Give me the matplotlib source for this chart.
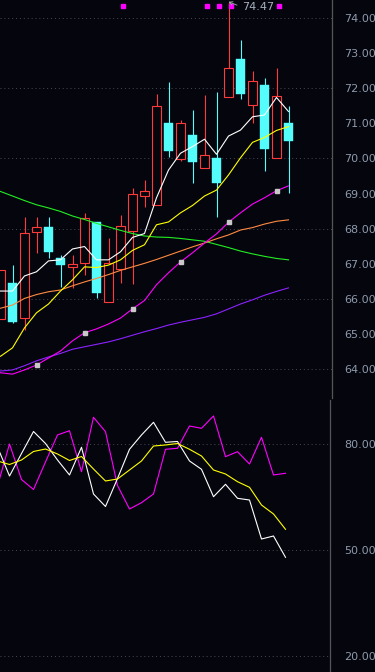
import matplotlib
matplotlib.use('Agg')
import matplotlib.pyplot as plt
from matplotlib.patches import Rectangle
import numpy as np

# daily candles, oldest first
opens = [65.42, 66.45, 65.45, 67.90, 68.04, 67.16, 66.92, 67.01, 68.18, 65.90, 66.84, 67.92, 68.94,
         68.66, 71.02, 69.98, 70.67, 69.72, 70.02, 71.76, 72.84, 71.52, 72.10, 70.02, 71.01]
closes = [66.82, 65.35, 67.88, 68.04, 67.32, 66.95, 66.99, 68.30, 66.17, 67.01, 68.07, 68.98, 69.08,
          71.50, 70.22, 71.01, 69.91, 70.10, 69.31, 72.57, 71.85, 72.21, 70.26, 71.78, 70.51]
highs = [66.82, 66.97, 68.34, 68.34, 68.34, 67.25, 67.25, 68.44, 68.18, 67.74, 68.39, 69.17, 69.39,
         71.84, 72.18, 71.10, 71.39, 71.81, 71.90, 74.47, 73.38, 72.50, 72.30, 72.58, 71.50]
lows = [65.42, 65.32, 65.11, 67.30, 67.16, 66.33, 66.30, 66.68, 66.03, 65.90, 66.44, 66.42, 68.63,
        68.66, 70.04, 69.94, 69.31, 69.72, 68.34, 71.76, 71.71, 71.02, 69.63, 70.02, 69.03]

# moving averages as shown on the chart
ma5 = [66.22, 66.22, 66.65, 66.77, 67.08, 67.11, 67.42, 67.49, 67.11, 67.11, 67.34, 67.75, 67.86,
       68.88, 69.67, 70.15, 70.34, 70.55, 70.12, 70.64, 70.81, 71.19, 71.24, 71.74, 71.34]
ma10 = [64.36, 64.60, 65.17, 65.60, 65.85, 66.22, 66.54, 66.91, 66.89, 66.96, 67.11, 67.38, 67.54,
        68.11, 68.19, 68.45, 68.66, 68.93, 69.10, 69.53, 70.02, 70.46, 70.60, 70.80, 70.91]
ma20 = [63.89, 63.85, 63.97, 64.11, 64.31, 64.51, 64.80, 65.03, 65.14, 65.28, 65.45, 65.71, 65.95,
        66.40, 66.74, 67.05, 67.31, 67.59, 67.85, 68.18, 68.45, 68.70, 68.88, 69.08, 69.22]
ma30 = [65.73, 65.82, 66.01, 66.12, 66.20, 66.25, 66.37, 66.48, 66.58, 66.69, 66.81, 66.91, 67.01,
        67.12, 67.24, 67.36, 67.48, 67.59, 67.71, 67.82, 67.96, 68.03, 68.13, 68.21, 68.25]
ma60 = [69.06, 68.93, 68.80, 68.68, 68.59, 68.49, 68.36, 68.26, 68.15, 68.05, 67.95, 67.86, 67.79,
        67.76, 67.75, 67.72, 67.68, 67.64, 67.55, 67.46, 67.36, 67.28, 67.21, 67.15, 67.11]
ma120 = [63.94, 63.97, 64.09, 64.23, 64.34, 64.44, 64.56, 64.63, 64.70, 64.77, 64.86, 64.96, 65.06,
         65.15, 65.25, 65.33, 65.40, 65.47, 65.57, 65.71, 65.85, 65.97, 66.10, 66.21, 66.31]
ma20_marks = [3, 7, 11, 15, 19, 23]
signal_days = [10, 17, 18, 19, 23]

# lower indicator pane
k_line = [79.15, 70.94, 77.31, 83.54, 80.14, 75.47, 71.23, 79.07, 65.85, 62.31, 70.24, 78.50, 82.55,
          86.14, 80.48, 80.71, 75.19, 72.84, 65.08, 68.59, 64.63, 64.15, 53.11, 53.96, 47.93]
d_line = [75.19, 74.20, 75.47, 77.88, 78.58, 77.17, 75.33, 76.46, 72.92, 69.53, 70.09, 72.64, 75.19,
          79.43, 79.72, 80.14, 78.50, 76.60, 72.64, 71.51, 69.33, 67.74, 62.73, 60.19, 55.86]
j_line = [68.11, 80.00, 69.95, 67.12, 74.91, 82.55, 83.76, 72.16, 87.56, 83.48, 68.25, 61.60, 63.39,
          65.85, 78.50, 78.78, 85.09, 84.44, 87.93, 76.41, 77.82, 74.34, 81.90, 71.23, 71.71]

price_ticks = list(range(64, 75))
osc_ticks = [80, 50, 20]

bg = '#05050e'
up_color = '#ff3a3a'
down_color = '#54fcfc'
label_color = '#8e9aab'
grid_color = '#4a4a55'
lw = 0.8

W, H = 375, 672
fig = plt.figure(figsize=(W / 100, H / 100), dpi=100, facecolor=bg)
ax1 = fig.add_axes([0, 274 / H, 332 / W, 398 / H], facecolor=bg)
ax2 = fig.add_axes([0, 0, 330 / W, 272 / H], facecolor=bg)

step = 12.0  # pixels per candle
x = np.arange(len(opens))
ax1.set_xlim(-0.5 / step, 331.5 / step)
ax1.set_ylim(63.17, 74.52)
ax2.set_xlim(2.5 / step, 332.5 / step)
ax2.set_ylim(15.47, 92.45)

# candles
for i in x:
    o, c, h, l = opens[i], closes[i], highs[i], lows[i]
    if c >= o:
        ax1.vlines(i, c, h, color=up_color, lw=lw, zorder=2)
        ax1.vlines(i, l, o, color=up_color, lw=lw, zorder=2)
        ax1.add_patch(Rectangle((i - 0.34, o), 0.68, c - o, facecolor=bg,
                                edgecolor=up_color, lw=lw, zorder=2))
    else:
        ax1.vlines(i, l, h, color=down_color, lw=lw, zorder=2)
        ax1.add_patch(Rectangle((i - 0.35, c), 0.7, o - c, facecolor=down_color,
                                edgecolor=down_color, lw=0.3, zorder=2))

ax1.plot(x, ma120, color='#8c22ff', lw=lw, zorder=3)
ax1.plot(x, ma60, color='#22ee22', lw=lw, zorder=3)
ax1.plot(x, ma30, color='#ff8a40', lw=lw, zorder=3)
ax1.plot(x, ma20, color='#ff00ff', lw=lw, zorder=3, marker='s', markevery=ma20_marks,
         markersize=3, mfc='#c8c8c8', mec='#c8c8c8')
ax1.plot(x, ma10, color='#ffff00', lw=lw, zorder=4)
ax1.plot(x, ma5, color='#ffffff', lw=lw, zorder=4)

# signal dots along the top
ax1.plot(np.array(signal_days) + 0.2, [0.985] * len(signal_days), ls='none', marker='s',
         markersize=2.3, color='#ff00ff', transform=ax1.get_xaxis_transform(), clip_on=False)

# highest price label
hi = int(np.argmax(highs))
ax1.annotate(f'{highs[hi]:.2f}', xy=(hi, highs[hi]), xytext=(10, -4), textcoords='offset points',
             ha='left', va='center', fontsize=8, color='#a6b0bd',
             arrowprops=dict(arrowstyle='->', color='#a6b0bd', lw=0.6, shrinkA=2, shrinkB=0,
                             relpos=(0, 0.5), mutation_scale=6))

xl = np.arange(len(k_line))
ax2.plot(xl, j_line, color='#ff00ff', lw=lw, zorder=3)
ax2.plot(xl, k_line, color='#ffffff', lw=lw, zorder=3)
ax2.plot(xl, d_line, color='#ffff00', lw=lw, zorder=4)

for v in price_ticks:
    if v % 2 == 0:
        ax1.axhline(v, color=grid_color, lw=0.7, ls=(0, (1, 3)), zorder=0)
for v in osc_ticks:
    ax2.axhline(v, color=grid_color, lw=0.7, ls=(0, (1, 3)), zorder=0)

for ax, ticks, pad in ((ax1, price_ticks, 8.6), (ax2, osc_ticks, 10.1)):
    ax.yaxis.tick_right()
    ax.set_yticks(ticks)
    ax.set_yticklabels([f'{t:.2f}' for t in ticks])
    ax.set_xticks([])
    ax.tick_params(axis='y', length=0, pad=pad, labelsize=8, labelcolor=label_color)
    for s in ('top', 'bottom', 'left'):
        ax.spines[s].set_visible(False)
    ax.spines['right'].set_color('#555558')
    ax.spines['right'].set_linewidth(0.9)

fig.savefig('out.png', dpi=100, facecolor=bg)
